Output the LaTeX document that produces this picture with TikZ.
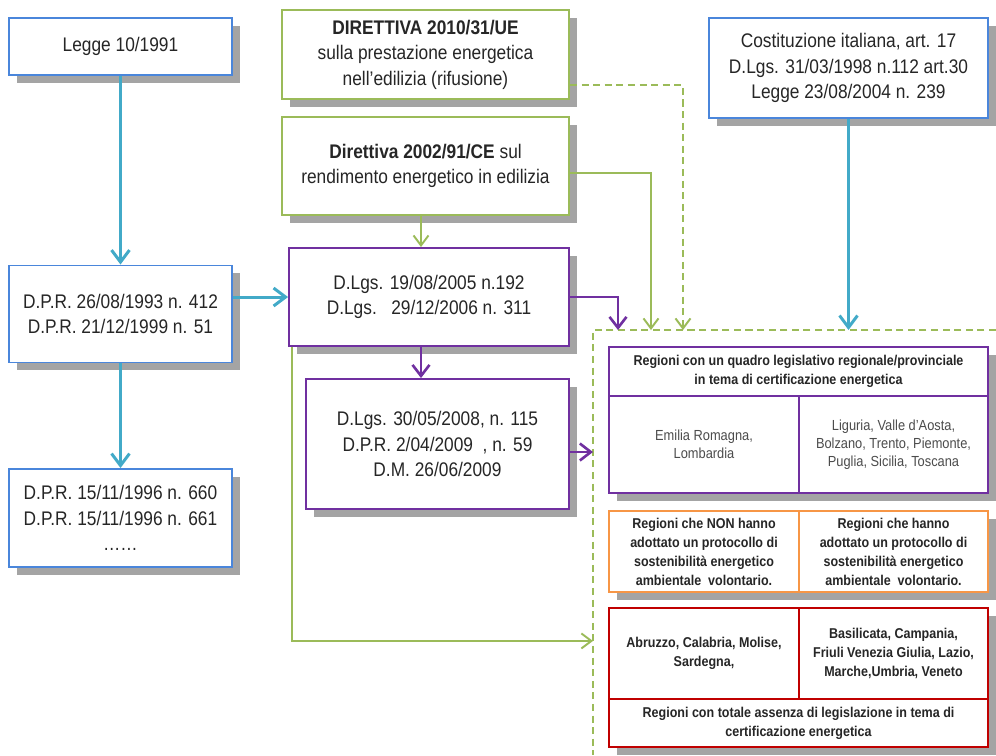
\documentclass[tikz,border=0pt]{standalone}
\usepackage{fontspec}
\setmainfont{Liberation Sans}[FakeStretch=0.88]
\usepackage{xcolor}
\usetikzlibrary{arrows.meta,positioning,shadows}
\definecolor{lawblue}{RGB}{74,134,219}
\definecolor{linkblue}{RGB}{66,170,200}
\definecolor{eugreen}{RGB}{155,187,89}
\definecolor{decviolet}{RGB}{112,48,160}
\definecolor{protorange}{RGB}{247,150,70}
\definecolor{nonered}{RGB}{192,0,0}
\begin{document}
\begin{tikzpicture}[
  x=0.02cm, y=-0.02cm,
  boxshadow/.style={drop shadow={shadow xshift=4.5pt, shadow yshift=-4.5pt, fill=black!55, opacity=.65}},
  box/.style={draw, line width=1.1pt, fill=white, align=center, inner sep=2pt, text=black!85, font=\fontsize{11.2}{14.5}\selectfont, boxshadow},
  natbox/.style={box, draw=lawblue},
  eubox/.style={box, draw=eugreen},
  decbox/.style={box, draw=decviolet},
  cell/.style={draw, line width=1.2pt, fill=white, align=center, inner sep=0pt, text=black!85, font=\fontsize{8.1}{10.8}\selectfont\bfseries, boxshadow},
  plaincell/.style={cell, text=black!70, font=\fontsize{8.3}{10.4}\selectfont},
  blueflow/.style={-{Straight Barb[length=2.4mm, width=3.6mm]}, line width=1.7pt, linkblue},
  greenflow/.style={-{Straight Barb[length=2mm, width=3mm]}, line width=1.1pt, eugreen},
  greendash/.style={greenflow, dashed, dash pattern=on 4pt off 2.6pt},
  violetflow/.style={-{Straight Barb[length=2.2mm, width=3.4mm]}, line width=1.5pt, decviolet},
  zoneline/.style={eugreen, line width=1.1pt, dash pattern=on 4pt off 2.6pt}
]
  \useasboundingbox (0,0) rectangle (996,755);

  \node[natbox, minimum width=4.46cm, minimum height=1.14cm] (legge) at (120.5,46.5) {Legge 10/1991};
  \node[natbox, minimum width=4.46cm, minimum height=1.94cm] (dpr1) at (120.5,314) {D.P.R. 26/08/1993 n. 412\\D.P.R. 21/12/1999 n. 51};
  \node[natbox, minimum width=4.46cm, minimum height=1.96cm] (dpr2) at (120.5,518) {D.P.R. 15/11/1996 n. 660\\D.P.R. 15/11/1996 n. 661\\……};

  \node[eubox, minimum width=5.74cm, minimum height=1.78cm] (dir2010) at (425.5,54.5) {\textbf{DIRETTIVA 2010/31/UE}\\sulla prestazione energetica\\nell'edilizia (rifusione)};
  \node[eubox, minimum width=5.74cm, minimum height=1.96cm] (dir2002) at (425.5,166) {\textbf{Direttiva 2002/91/CE} sul\\rendimento energetico in edilizia};

  \node[decbox, minimum width=5.6cm, minimum height=1.96cm] (dlgs1) at (429,297) {D.Lgs. 19/08/2005 n.192\\D.Lgs.\ \ \ 29/12/2006 n. 311};
  \node[decbox, minimum width=5.26cm, minimum height=2.6cm] (dlgs2) at (437.5,444) {D.Lgs. 30/05/2008, n. 115\\D.P.R. 2/04/2009\ \ , n. 59\\D.M. 26/06/2009};

  \node[natbox, minimum width=5.58cm, minimum height=2cm] (cost) at (848.5,68) {Costituzione italiana, art. 17\\D.Lgs. 31/03/1998 n.112 art.30\\Legge 23/08/2004 n. 239};

  \coordinate (zone) at (593,330);
  \draw[zoneline] (996,330) -- (zone) -- (593,755);

  \node[cell, draw=decviolet, minimum width=7.58cm, minimum height=0.98cm] (quadro) at (798.5,371.5) {Regioni con un quadro legislativo regionale/provinciale\\in tema di certificazione energetica};
  \node[plaincell, draw=decviolet, minimum width=3.8cm, minimum height=1.94cm] (quadroA) at (704,444.5) {Emilia Romagna,\\Lombardia};
  \node[plaincell, draw=decviolet, minimum width=3.78cm, minimum height=1.94cm] (quadroB) at (893.5,444.5) {Liguria, Valle d'Aosta,\\Bolzano, Trento, Piemonte,\\Puglia, Sicilia, Toscana};

  \node[cell, draw=protorange, minimum width=3.8cm, minimum height=1.62cm] (protoA) at (704,551.5) {Regioni che NON hanno\\adottato un protocollo di\\sostenibilità energetico\\ambientale\ \ volontario.};
  \node[cell, draw=protorange, minimum width=3.78cm, minimum height=1.62cm] (protoB) at (893.5,551.5) {Regioni che hanno\\adottato un protocollo di\\sostenibilità energetico\\ambientale\ \ volontario.};

  \node[cell, draw=nonered, minimum width=3.8cm, minimum height=1.82cm] (nulloA) at (704,653.5) {Abruzzo, Calabria, Molise,\\Sardegna,};
  \node[cell, draw=nonered, minimum width=3.78cm, minimum height=1.82cm] (nulloB) at (893.5,653.5) {Basilicata, Campania,\\Friuli Venezia Giulia, Lazio,\\Marche,Umbria, Veneto};
  \node[cell, draw=nonered, minimum width=7.58cm, minimum height=0.96cm] (nullo) at (798.5,723) {Regioni con totale assenza di legislazione in tema di\\certificazione energetica};

  \draw[blueflow] (legge.south) -- (dpr1.north);
  \draw[blueflow] (dpr1.south) -- (dpr2.north);
  \draw[blueflow] (dpr1.east |- dlgs1) -- (dlgs1.west);
  \draw[blueflow] (cost.south) -- (cost.south |- zone);

  \draw[greendash] ([yshift=.3cm]dir2010.south east) -| ([xshift=1.8cm]zone);
  \draw[greenflow] ([yshift=-.14cm]dir2002.east) -| ([xshift=1.16cm]zone);
  \draw[greenflow] ([xshift=-.09cm]dir2002.south) -- ([xshift=-.09cm]dir2002.south |- dlgs1.north);
  \draw[greenflow] ([xshift=2pt]dlgs1.south west) |- ([yshift=-6.22cm]zone);

  \draw[violetflow] (dlgs1.east) -| ([xshift=.5cm]zone);
  \draw[violetflow] ([xshift=-.16cm]dlgs1.south) -- ([xshift=-.16cm]dlgs1.south |- dlgs2.north);
  \draw[violetflow] ([yshift=-.16cm]dlgs2.east) -- ([yshift=-.16cm]dlgs2.east -| zone);
\end{tikzpicture}
\end{document}
